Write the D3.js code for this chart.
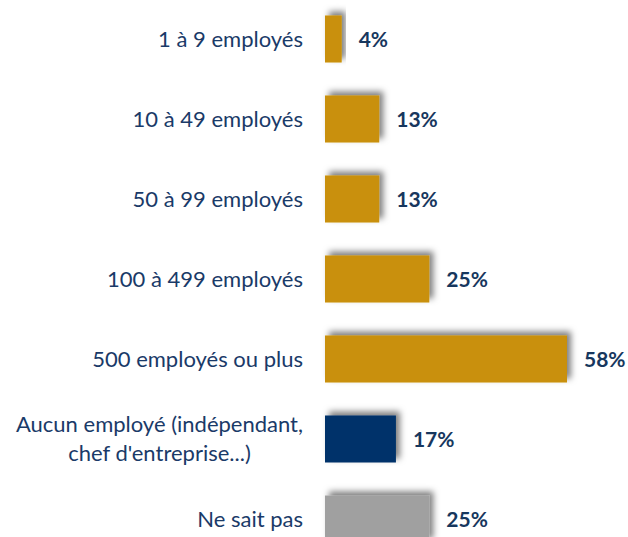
<!DOCTYPE html>
<html>
<head>
<meta charset="utf-8">
<script src="https://cdn.jsdelivr.net/npm/d3@7"></script>
<style>
  body { margin: 0; background: #fff; }
  text { font-family: Lato, "Open Sans", sans-serif; }
</style>
</head>
<body>
<script>
// data
var categories = ["1 à 9 employés", "10 à 49 employés", "50 à 99 employés",
                  "100 à 499 employés", "500 employés ou plus",
                  "Aucun employé (indépendant,\nchef d'entreprise...)", "Ne sait pas"];
var values = [4, 13, 13, 25, 58, 17, 25];
var barColors = ["#C9900A", "#C9900A", "#C9900A", "#C9900A", "#C9900A", "#00336B", "#A0A0A0"];

var svg_dx = 628, svg_dy = 537,
    bar_x0 = 325,
    label_x = 303;

var svg = d3.select("body").append("svg")
    .attr("width", svg_dx)
    .attr("height", svg_dy);

var x = d3.scaleLinear().domain([0, 58]).range([bar_x0, 567]);
var y = d3.scaleBand().domain(categories).range([-1, 559])
    .paddingInner(0.4125).paddingOuter(0.20625);

// shadow
var defs = svg.append("defs");
var f = defs.append("filter").attr("id", "shadow")
    .attr("x", "-20%").attr("y", "-40%").attr("width", "140%").attr("height", "180%");
f.append("feDropShadow")
    .attr("dx", 4).attr("dy", -4)
    .attr("stdDeviation", 3)
    .attr("flood-color", "#000").attr("flood-opacity", 0.5);

var rows = categories.map(function(c, i) {
    return {cat: c, value: values[i], color: barColors[i]};
});

svg.append("g").selectAll("rect")
   .data(rows).enter()
   .append("rect")
   .attr("x", x(0))
   .attr("y", d => y(d.cat))
   .attr("width", d => x(d.value) - x(0))
   .attr("height", y.bandwidth())
   .attr("fill", d => d.color)
   .attr("filter", "url(#shadow)");

// value labels
svg.append("g").selectAll("text")
   .data(rows).enter()
   .append("text")
   .attr("x", d => x(d.value) + 17)
   .attr("y", d => y(d.cat) + y.bandwidth() / 2)
   .attr("dy", "0.36em")
   .attr("font-size", 21)
   .attr("font-weight", "bold")
   .attr("fill", "#17375E")
   .text(d => d.value + "%");

// category labels
var labels = svg.append("g").selectAll("text")
   .data(rows).enter()
   .append("text")
   .attr("font-size", 22)
   .attr("fill", "#1A3A68")
   .attr("text-anchor", "middle");

labels.each(function(d) {
    var t = d3.select(this),
        lines = d.cat.split("\n"),
        cy = y(d.cat) + y.bandwidth() / 2,
        lh = 29;
    lines.forEach(function(l, i) {
        t.append("tspan")
         .attr("y", cy + (i - (lines.length - 1) / 2) * lh)
         .attr("dy", "0.35em")
         .text(l);
    });
    var w = d3.max(t.selectAll("tspan").nodes(), n => n.getComputedTextLength());
    t.selectAll("tspan").attr("x", label_x - w / 2);
});
</script>
</body>
</html>
